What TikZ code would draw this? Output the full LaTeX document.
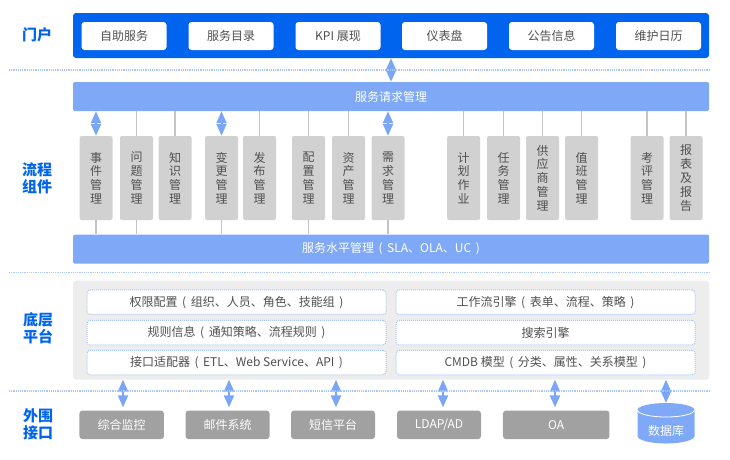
\documentclass[tikz,border=0pt]{standalone}
\usepackage{fontspec}
\setmainfont{Noto Sans CJK SC}
\usetikzlibrary{arrows.meta, calc, positioning}
\definecolor{portalblue}{HTML}{0064EE}
\definecolor{barblue}{HTML}{7FA9F7}
\definecolor{arrowblue}{HTML}{7AA6F8}
\definecolor{dotblue}{HTML}{A9C7FB}
\definecolor{textgray}{HTML}{505050}
\newcommand{\openp}{\hspace{4.5pt}(\hspace{4.5pt}}
\newcommand{\closep}{\hspace{4.5pt})}
\tikzset{
  layerlabel/.style={text=portalblue, font=\fontsize{15}{17}\selectfont\bfseries, align=center},
  portalitem/.style={fill=white, rounded corners=3pt, minimum width=85pt, minimum height=28pt, text=textgray, font=\fontsize{12}{14}\selectfont},
  widebar/.style={fill=barblue, rounded corners=1.5pt, minimum width=636pt, minimum height=29pt, text=white, font=\fontsize{12}{14}\selectfont},
  processitem/.style={fill=black!18, rounded corners=2pt, minimum width=33pt, minimum height=84pt, text=textgray, align=center, font=\fontsize{12}{13.8}\selectfont},
  platformitem/.style={fill=white, draw=dotblue, densely dotted, line width=1pt, rounded corners=3pt, minimum width=299pt, minimum height=24.5pt, text=textgray, font=\fontsize{12}{14}\selectfont},
  externalitem/.style={fill=black!37, rounded corners=3pt, minimum height=28.5pt, text=white, font=\fontsize{12}{14}\selectfont},
  linkline/.style={draw=black!23, line width=1.2pt},
  bidir/.style={draw=arrowblue, line width=2pt, {Triangle[length=12pt,width=10pt]}-{Triangle[length=12pt,width=10pt]}},
  sepline/.style={draw=dotblue, densely dotted, line width=1.2pt}
}
\begin{document}
\begin{tikzpicture}[x=1pt,y=-1pt]
\useasboundingbox (0,0) rectangle (730,459);

% --- layer names ---
\node [layerlabel] (lblportal) at (37,35) {门户};
\node [layerlabel] (lblprocess) at (37,178) {流程\\组件};
\node [layerlabel] (lblbase) at (38,328.5) {底层\\平台};
\node [layerlabel] (lblext) at (38,424.5) {外围\\接口};

% --- portal ---
\node [fill=portalblue, rounded corners=3pt, minimum width=636pt, minimum height=45pt] (portal) at (391,35.5) {};
\node [portalitem] (p1) at (124,36) {自助服务};
\node [portalitem] (p2) at (231,36) {服务目录};
\node [portalitem] (p3) at (338,36) {KPI 展现};
\node [portalitem] (p4) at (444.5,36) {仪表盘};
\node [portalitem] (p5) at (551.5,36) {公告信息};
\node [portalitem] (p6) at (658.5,36) {维护日历};

% --- process components ---
\node [widebar] (request) at (391,96.5) {服务请求管理};
\node [widebar] (sla) at (391,249) {服务水平管理\openp SLA、OLA、UC\closep};

\node [processitem] (c1) at (96,178) {事\\件\\管\\理};
\node [processitem] (c2) at (136.5,178) {问\\题\\管\\理};
\node [processitem] (c3) at (175,178) {知\\识\\管\\理};
\node [processitem] (c4) at (221.5,178) {变\\更\\管\\理};
\node [processitem] (c5) at (259.5,178) {发\\布\\管\\理};
\node [processitem] (c6) at (308.5,178) {配\\置\\管\\理};
\node [processitem] (c7) at (348.5,178) {资\\产\\管\\理};
\node [processitem] (c8) at (388,178) {需\\求\\管\\理};
\node [processitem] (c9) at (463.5,178) {计\\划\\作\\业};
\node [processitem] (c10) at (503.5,178) {任\\务\\管\\理};
\node [processitem] (c11) at (542.5,178) {供\\应\\商\\管\\理};
\node [processitem] (c12) at (581.5,178) {值\\班\\管\\理};
\node [processitem] (c13) at (647,178) {考\\评\\管\\理};
\node [processitem] (c14) at (686,178) {报\\表\\及\\报\\告};

% links up to the request bar
\draw [linkline] (c2.north) -- (c2.north |- request.south);
\draw [linkline] (c3.north) -- (c3.north |- request.south);
\draw [linkline] (c5.north) -- (c5.north |- request.south);
\draw [linkline] (c6.north) -- (c6.north |- request.south);
\draw [linkline] (c7.north) -- (c7.north |- request.south);
\draw [linkline] (c9.north) -- (c9.north |- request.south);
\draw [linkline] (c10.north) -- (c10.north |- request.south);
\draw [linkline] (c11.north) -- (c11.north |- request.south);
\draw [linkline] (c12.north) -- (c12.north |- request.south);
\draw [linkline] (c13.north) -- (c13.north |- request.south);
\draw [linkline] (c14.north) -- (c14.north |- request.south);

% links down to the sla bar
\draw [linkline] (c1.south) -- (c1.south |- sla.north);
\draw [linkline] (c2.south) -- (c2.south |- sla.north);
\draw [linkline] (c4.south) -- (c4.south |- sla.north);
\draw [linkline] (c6.south) -- (c6.south |- sla.north);
\draw [linkline] (c8.south) -- (c8.south |- sla.north);

% --- base platform ---
\node [fill=black!7, rounded corners=3pt, minimum width=636pt, minimum height=99pt] (platform) at (391,330.2) {};
\node [platformitem] (b1) at (236.5,302.2) {权限配置\openp 组织、人员、角色、技能组\closep};
\node [platformitem] (b2) at (236.5,332.7) {规则信息\openp 通知策略、流程规则\closep};
\node [platformitem] (b3) at (236.5,362.5) {接口适配器\openp ETL、Web Service、API\closep};
\node [platformitem] (b4) at (545.5,302.2) {工作流引擎\openp 表单、流程、策略\closep};
\node [platformitem] (b5) at (545.5,332.7) {搜索引擎};
\node [platformitem] (b6) at (545.5,362.5) {CMDB 模型\openp 分类、属性、关系模型\closep};

% --- external interfaces ---
\node [externalitem, minimum width=84.5pt] (e1) at (121.7,424.8) {综合监控};
\node [externalitem, minimum width=84pt] (e2) at (227.5,424.8) {邮件系统};
\node [externalitem, minimum width=84pt] (e3) at (333,424.8) {短信平台};
\node [externalitem, minimum width=84pt] (e4) at (439,424.8) {LDAP/AD};
\node [externalitem, minimum width=106.5pt] (e5) at (556.2,424.8) {OA};

% database drum
\coordinate (dbtop) at (666,403);
\coordinate (dbleft) at (637.5,410);
\coordinate (dbright) at (694.5,410);
\fill [barblue] (dbleft) -- (637.5,436) arc [start angle=180, end angle=0, x radius=28.5, y radius=7.5] -- (dbright) arc [start angle=0, end angle=-180, x radius=28.5, y radius=7] -- cycle;
\draw [white, line width=0.8pt] (dbleft) arc [start angle=180, end angle=0, x radius=28.5, y radius=7];
\node [text=white, font=\fontsize{12}{14}\selectfont] (dbname) at (666,431) {数据库};

% --- double arrows ---
\coordinate (a1) at (123,379.7);
\coordinate (a2) at (229,379.7);
\coordinate (a3) at (336,379.7);
\coordinate (a4) at (443,379.7);
\coordinate (a5) at (555,379.7);
\coordinate (a6) at (666,379.7);
\draw [bidir] (portal.south -| request.center) -- (request.north);
\draw [bidir] (c1.north |- request.south) -- (c1.north);
\draw [bidir] (c4.north |- request.south) -- (c4.north);
\draw [bidir] (c8.north |- request.south) -- (c8.north);
\draw [bidir, shorten >=3pt] (a1) -- (a1 |- e1.north);
\draw [bidir, shorten >=3pt] (a2) -- (a2 |- e2.north);
\draw [bidir, shorten >=3pt] (a3) -- (a3 |- e3.north);
\draw [bidir, shorten >=3pt] (a4) -- (a4 |- e4.north);
\draw [bidir, shorten >=3pt] (a5) -- (a5 |- e5.north);
\draw [bidir] (a6) -- (dbtop);

% --- dotted separators ---
\coordinate (s1) at (9,70);
\coordinate (s2) at (709,70);
\coordinate (s3) at (9,272.5);
\coordinate (s4) at (709,272.5);
\coordinate (s5) at (9,391);
\coordinate (s6) at (709,391);
\draw [sepline] (s1) -- (s2);
\draw [sepline] (s3) -- (s4);
\draw [sepline] (s5) -- (s6);
\end{tikzpicture}
\end{document}
